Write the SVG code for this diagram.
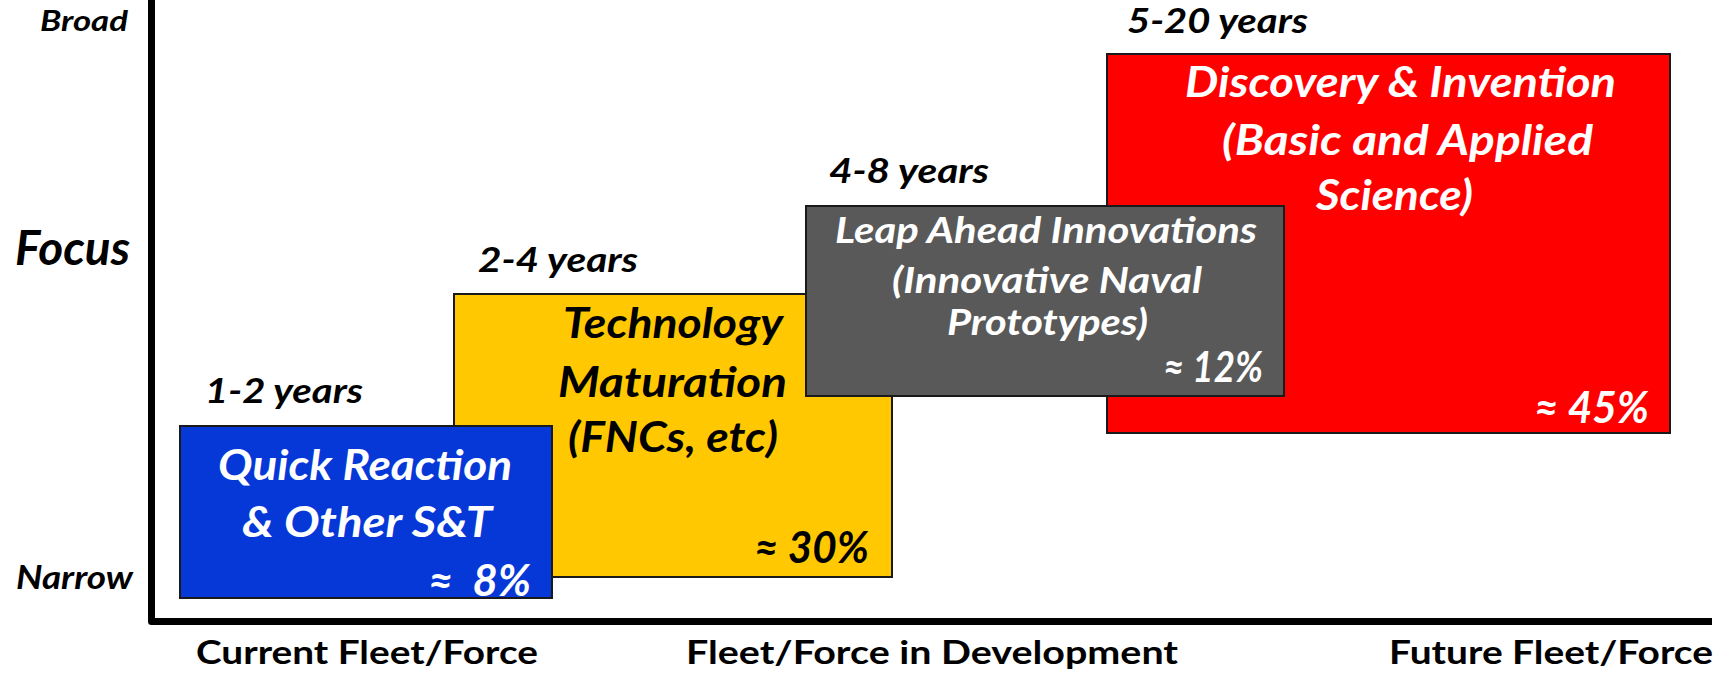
<svg xmlns="http://www.w3.org/2000/svg" width="1722" height="678" viewBox="0 0 1722 678">
<style>
  text { font-family: Lato, "Open Sans", "Liberation Sans", sans-serif; font-weight: bold; }
  .it { font-style: italic; }
  .blk { fill: #000; }
  .wht { fill: #fff; }
  .box { stroke: #1a1a1a; stroke-width: 2; }
  .axis { fill: none; stroke: #000; stroke-width: 7; stroke-linejoin: round; stroke-linecap: butt; }
  .t42 { font-size: 42px; }
  .t37 { font-size: 37px; }
  .t34 { font-size: 34px; }
  .t33 { font-size: 33px; }
  .t29 { font-size: 29px; }
  .t48 { font-size: 48px; }
  .t44 { font-size: 44px; }
</style>
<rect width="1722" height="678" fill="#fff"/>

<g id="connectors">
  <path class="axis" d="M151.5,0 V621.5 H1712"/>
</g>

<g id="axis-labels">
  <text class="it blk t29" x="40" y="31" textLength="88" lengthAdjust="spacingAndGlyphs">Broad</text>
  <text class="it blk t48" x="15" y="265" textLength="115" lengthAdjust="spacingAndGlyphs">Focus</text>
  <text class="it blk t33" x="16" y="589" textLength="117" lengthAdjust="spacingAndGlyphs">Narrow</text>
  <text class="blk t33" x="196" y="664" textLength="342" lengthAdjust="spacingAndGlyphs">Current Fleet/Force</text>
  <text class="blk t33" x="686" y="664" textLength="492" lengthAdjust="spacingAndGlyphs">Fleet/Force in Development</text>
  <text class="blk t33" x="1389" y="664" textLength="324" lengthAdjust="spacingAndGlyphs">Future Fleet/Force</text>
</g>

<g id="discovery">
  <rect class="box" x="1107" y="54" width="563" height="379" fill="#ff0000"/>
  <text class="it blk t34" x="1127" y="33" textLength="181" lengthAdjust="spacingAndGlyphs">5-20 years</text>
  <text class="it wht t42" x="1185" y="97" textLength="431" lengthAdjust="spacingAndGlyphs">Discovery &amp; Invention</text>
  <text class="it wht t42" x="1222" y="155" textLength="371" lengthAdjust="spacingAndGlyphs">(Basic and Applied</text>
  <text class="it wht t42" x="1316" y="210" textLength="157" lengthAdjust="spacingAndGlyphs">Science)</text>
  <text class="it wht t44" x="1534" y="423" textLength="115" lengthAdjust="spacingAndGlyphs">≈ 45%</text>
</g>

<g id="maturation">
  <rect class="box" x="454" y="294" width="438" height="283" fill="#ffc800"/>
  <text class="it blk t34" x="478" y="272" textLength="160" lengthAdjust="spacingAndGlyphs">2-4 years</text>
  <text class="it blk t42" x="563" y="338" textLength="220" lengthAdjust="spacingAndGlyphs">Technology</text>
  <text class="it blk t42" x="558" y="397" textLength="229" lengthAdjust="spacingAndGlyphs">Maturation</text>
  <text class="it blk t42" x="568" y="452" textLength="210" lengthAdjust="spacingAndGlyphs">(FNCs, etc)</text>
  <text class="it blk t44" x="754" y="563" textLength="115" lengthAdjust="spacingAndGlyphs">≈ 30%</text>
</g>

<g id="leap-ahead">
  <rect class="box" x="806" y="206" width="478" height="190" fill="#595959"/>
  <text class="it blk t34" x="829" y="183" textLength="160" lengthAdjust="spacingAndGlyphs">4-8 years</text>
  <text class="it wht t37" x="835" y="243" textLength="422" lengthAdjust="spacingAndGlyphs">Leap Ahead Innovations</text>
  <text class="it wht t37" x="892" y="293" textLength="310" lengthAdjust="spacingAndGlyphs">(Innovative Naval</text>
  <text class="it wht t37" x="947" y="335" textLength="201" lengthAdjust="spacingAndGlyphs">Prototypes)</text>
  <text class="it wht t42" x="1163" y="382" textLength="100" lengthAdjust="spacingAndGlyphs">≈ 12%</text>
</g>

<g id="quick-reaction">
  <rect class="box" x="180" y="426" width="372" height="172" fill="#0638d8"/>
  <text class="it blk t34" x="205" y="403" textLength="158" lengthAdjust="spacingAndGlyphs">1-2 years</text>
  <text class="it wht t42" x="218" y="480" textLength="294" lengthAdjust="spacingAndGlyphs">Quick Reaction</text>
  <text class="it wht t42" x="242" y="537" textLength="250" lengthAdjust="spacingAndGlyphs">&amp; Other S&amp;T</text>
  <text class="it wht t44" x="428" y="596" textLength="103" lengthAdjust="spacingAndGlyphs" xml:space="preserve">≈  8%</text>
</g>
</svg>
